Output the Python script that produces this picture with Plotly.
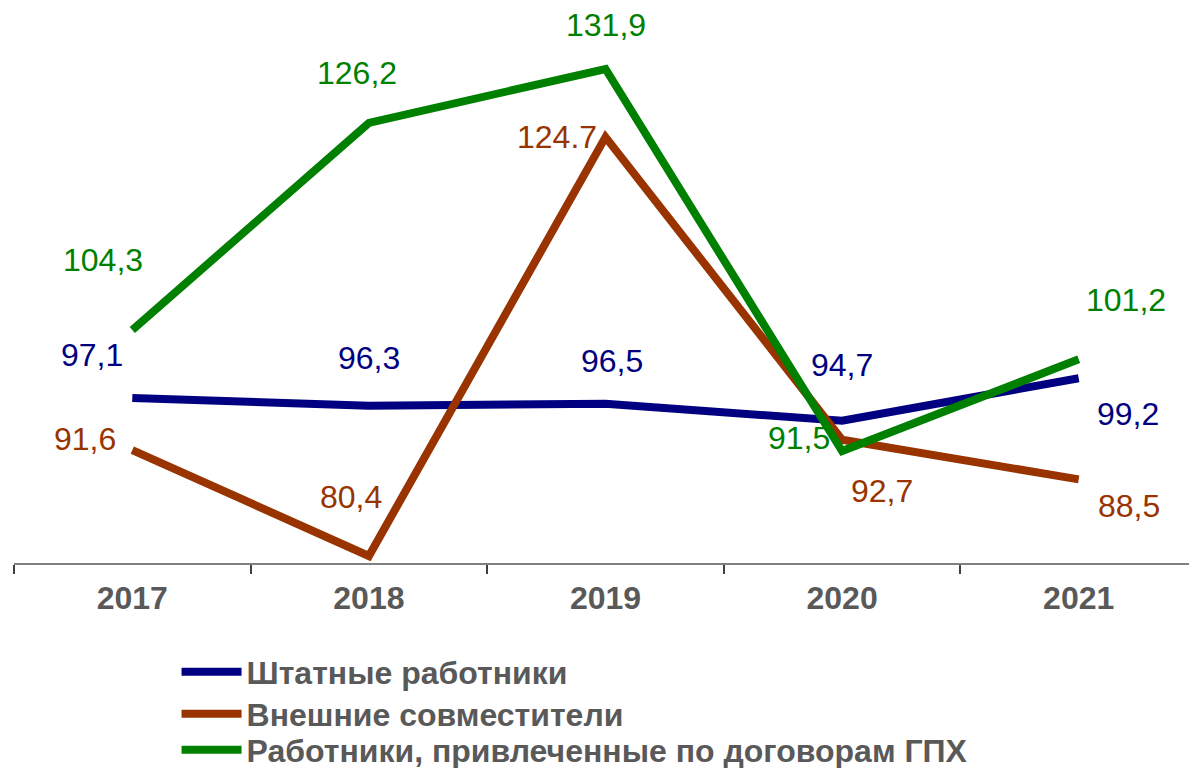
import plotly.graph_objects as go

years = ['2017', '2018', '2019', '2020', '2021']

staff = [97.1, 96.3, 96.5, 94.7, 99.2]
staff_labels = ['97,1', '96,3', '96,5', '94,7', '99,2']

external = [91.6, 80.4, 124.7, 92.7, 88.5]
external_labels = ['91,6', '80,4', '124.7', '92,7', '88,5']

contract = [104.3, 126.2, 131.9, 91.5, 101.2]
contract_labels = ['104,3', '126,2', '131,9', '91,5', '101,2']

series_names = [
    'Штатные работники',
    'Внешние совместители',
    'Работники, привлеченные по договорам ГПХ',
]

# label offsets in pixels (x, y) relative to each point
staff_offsets = [(-40, 43), (0, 48), (6, 43), (0, 56), (49, -36)]
external_offsets = [(-47, 11), (-18, 59), (-49, 0), (40, -51), (50, -27)]
contract_offsets = [(-29, 70), (-12, 50), (0, 44), (-43, 13), (47, 59)]

FONT = 'Liberation Sans, Arial, sans-serif'
GREY = '#595959'


def add_series(fig, values, labels, offsets, name, color, legend_id):
    """Adds one line and its value labels to the figure."""
    fig.add_trace(go.Scatter(
        x=years, y=values, name=name, mode='lines',
        line=dict(color=color, width=8),
        legend=legend_id, hoverinfo='skip'
    ))
    for i, (val, text, (dx, dy)) in enumerate(zip(values, labels, offsets)):
        fig.add_annotation(
            x=i, y=val, xref='x', yref='y', text=text, showarrow=False,
            xshift=dx, yshift=dy,
            font=dict(family=FONT, size=32, color=color)
        )


fig = go.Figure()
add_series(fig, staff, staff_labels, staff_offsets, series_names[0], '#000080', 'legend')
add_series(fig, external, external_labels, external_offsets, series_names[1], '#993300', 'legend2')
add_series(fig, contract, contract_labels, contract_offsets, series_names[2], '#008000', 'legend3')

# one legend per series so the rows sit where the original has them
legend_style = dict(
    orientation='v', x=0.1374, xanchor='left', yanchor='middle',
    font=dict(family=FONT, size=32, color=GREY, weight='bold'),
    itemwidth=60, bgcolor='rgba(0,0,0,0)'
)

fig.update_layout(
    width=1189, height=760,
    margin=dict(l=6, r=0, t=0, b=205, autoexpand=False),
    paper_bgcolor='white', plot_bgcolor='white',
    font=dict(family=FONT, color=GREY),
    showlegend=True,
    legend=dict(legend_style, y=-0.1964),
    legend2=dict(legend_style, y=-0.272),
    legend3=dict(legend_style, y=-0.337),
    xaxis=dict(
        type='category', showgrid=False, zeroline=False,
        showline=True, linecolor='#808080', linewidth=2,
        ticks='outside', tickson='boundaries', ticklen=9,
        tickcolor='#404040', tickwidth=1.5, ticklabelstandoff=6,
        tickfont=dict(family=FONT, size=32, color=GREY, weight='bold'),
        range=[-0.5, 4.5]
    ),
    yaxis=dict(
        range=[79.66, 138.35], showgrid=False, zeroline=False,
        showline=False, showticklabels=False, ticks=''
    ),
)

fig.write_html('out.html')
